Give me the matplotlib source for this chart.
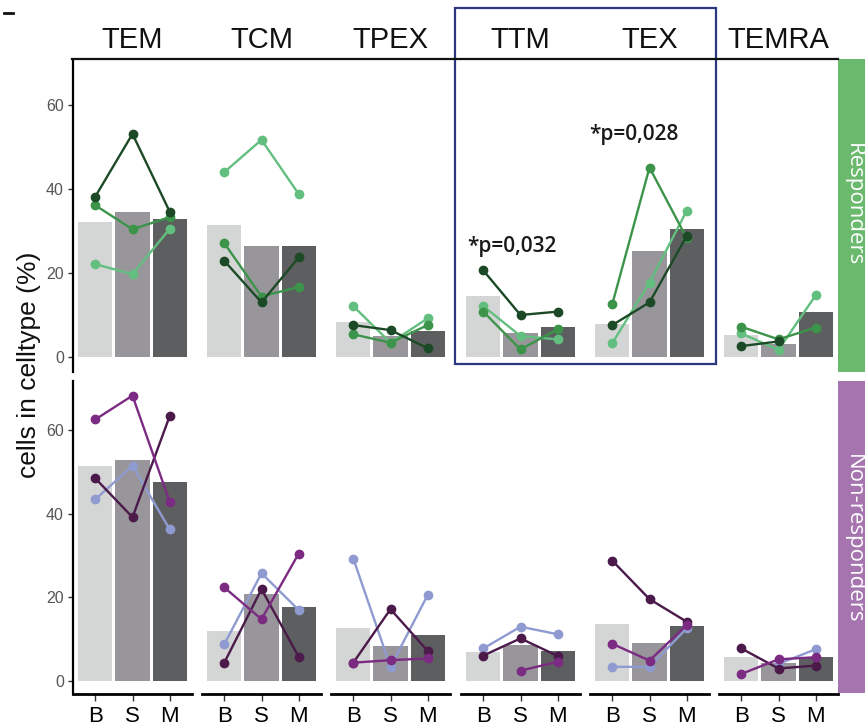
import numpy as np
import matplotlib
matplotlib.use("Agg")
import matplotlib.pyplot as plt
from matplotlib.lines import Line2D
from matplotlib.patches import Rectangle

# --- data ---
celltypes = ["TEM", "TCM", "TPEX", "TTM", "TEX", "TEMRA"]
timepoints = ["B", "S", "M"]

# responders: bar means and three patients
resp_bars = [[32.2, 34.4, 32.9], [31.4, 26.4, 26.5], [8.4, 5.0, 6.3],
             [14.5, 5.6, 7.2], [7.9, 25.3, 30.4], [5.2, 3.1, 10.8]]
resp_light = [[22.1, 19.7, 30.5], [44.0, 51.7, 38.8], [12.1, 3.4, 9.2],
              [12.1, 5.0, 4.2], [3.3, 17.7, 34.8], [5.6, 1.7, 14.7]]
resp_mid = [[36.1, 30.4, 33.3], [27.1, 14.4, 16.7], [5.4, 3.4, 7.6],
            [10.8, 1.8, 6.6], [12.6, 45.1, 28.3], [7.2, 4.2, 7.0]]
resp_dark = [[38.2, 53.1, 34.6], [22.9, 13.0, 23.7], [7.6, 6.4, 2.1],
             [20.6, 10.0, 10.8], [7.6, 13.0, 28.8], [2.6, 3.7, np.nan]]

# non-responders
nonresp_bars = [[51.5, 53.0, 47.7], [12.0, 20.8, 17.8], [12.8, 8.5, 11.0],
                [6.9, 8.6, 7.2], [13.6, 9.2, 13.2], [5.7, 4.2, 5.7]]
nonresp_lav = [[43.5, 51.5, 36.3], [8.8, 25.8, 17.0], [29.3, 3.4, 20.6],
               [7.8, 13.0, 11.2], [3.4, 3.4, 12.6], [np.nan, 4.1, 7.6]]
nonresp_dark = [[48.5, 39.2, 63.4], [4.4, 22.0, 5.8], [4.4, 17.2, 7.2],
                [6.1, 10.2, 6.0], [28.8, 19.6, 14.2], [7.8, 3.0, 3.7]]
nonresp_mag = [[62.6, 68.3, 42.9], [22.4, 14.8, 30.5], [4.4, 5.0, 5.4],
               [np.nan, 2.5, 4.6], [8.9, 4.9, 13.4], [1.7, 5.2, 5.7]]

annotations = {3: ("*p=0,032", 1.76, 26.4), 4: ("*p=0,028", 1.58, 52.9)}

bar_colors = ["#d4d5d5", "#98969a", "#5d5e60"]
green_cols = ["#62bf7f", "#3c944a", "#1d4a26"]
purple_cols = ["#8f9bd0", "#4b1a4b", "#7c2b83"]

W, H = 865, 726
plt.rcParams['font.family'] = ['Liberation Sans', 'DejaVu Sans']
fig = plt.figure(figsize=(W / 100, H / 100), dpi=100)


def px_axes(x0, y0, x1, y1):
    return fig.add_axes([x0 / W, 1 - y1 / H, (x1 - x0) / W, (y1 - y0) / H])


lefts = [73, 202, 331, 461, 590, 719]
pw = 119
rows = [(60, 372, -3.57, 70.7, resp_bars, [resp_light, resp_mid, resp_dark], green_cols),
        (381, 694, -3.1, 71.8, nonresp_bars, [nonresp_lav, nonresp_dark, nonresp_mag], purple_cols)]
xpos = np.arange(1, len(timepoints) + 1)

for r, (ytop, ybot, ylo, yhi, bars, series, cols) in enumerate(rows):
    for i, ct in enumerate(celltypes):
        ax = px_axes(lefts[i], ytop, lefts[i] + pw, ybot)
        ax.set_xlim(0.4, 3.6)
        ax.set_ylim(ylo, yhi)
        ax.bar(xpos, bars[i], width=0.92, color=bar_colors, zorder=1)
        for s, c in zip(series, cols):
            ax.plot(xpos, s[i], color=c, lw=1.7, marker="o", ms=6, zorder=3)
        for side in ["top", "right", "left", "bottom"]:
            ax.spines[side].set_visible(False)
        ax.patch.set_alpha(0)
        if i == 0:
            ax.spines["left"].set_visible(True)
            ax.spines["left"].set_linewidth(1.6)
            ax.set_yticks([0, 20, 40, 60])
            ax.tick_params(axis="y", length=3.6, width=1, color="#333333",
                           labelsize=11.5, labelcolor="#555555", pad=3)
        else:
            ax.set_yticks([])
        if r == 1:
            ax.spines["bottom"].set_visible(True)
            ax.spines["bottom"].set_linewidth(2)
            ax.set_xticks(xpos)
            ax.set_xticklabels(timepoints)
            ax.tick_params(axis="x", length=5, width=1, color="#333333",
                           labelsize=16, labelcolor="black", pad=4)
        else:
            ax.set_xticks([])
            if i in annotations:
                txt, tx, ty = annotations[i]
                ax.text(tx, ty, txt, ha="center", va="center", fontsize=15,
                        family=["Open Sans", "DejaVu Sans"], fontweight="semibold",
                        color="#1a1a1a", zorder=5)

# column headers
for i, ct in enumerate(celltypes):
    fig.text((lefts[i] + pw / 2) / W, 1 - 48 / H, ct, ha="center", va="baseline",
             fontsize=21, color="#111111")

# header rule and little dash top-left
fig.add_artist(Line2D([72 / W, 838 / W], [1 - 59 / H, 1 - 59 / H], color="#111111", lw=1.6))
fig.add_artist(Line2D([4 / W, 13 / W], [1 - 13 / H, 1 - 13 / H], color="#111111", lw=2))

# highlight box around TTM / TEX
fig.add_artist(Rectangle((455 / W, 1 - 364 / H), (716 - 455) / W, (364 - 8) / H,
                         transform=fig.transFigure, fill=False, edgecolor="#2c3782", lw=1.6))

# row strips
fig.add_artist(Rectangle((838 / W, 1 - 372 / H), 30 / W, (372 - 59) / H,
                         transform=fig.transFigure, color="#6ab96d", lw=0))
fig.add_artist(Rectangle((838 / W, 1 - 693 / H), 30 / W, (693 - 381) / H,
                         transform=fig.transFigure, color="#a675b0", lw=0))
fig.text(853 / W, 1 - 205 / H, "Responders", rotation=-90, ha="center", va="center",
         fontsize=16, color="white", family=["Open Sans", "DejaVu Sans"])
fig.text(853 / W, 1 - 539 / H, "Non-responders", rotation=-90, ha="center", va="center",
         fontsize=16, color="white", family=["Open Sans", "DejaVu Sans"])

fig.text(29 / W, 1 - 365 / H, "cells in celltype (%)", rotation=90, ha="center",
         va="center", fontsize=19, color="#111111")

fig.savefig("out.png", dpi=100)
